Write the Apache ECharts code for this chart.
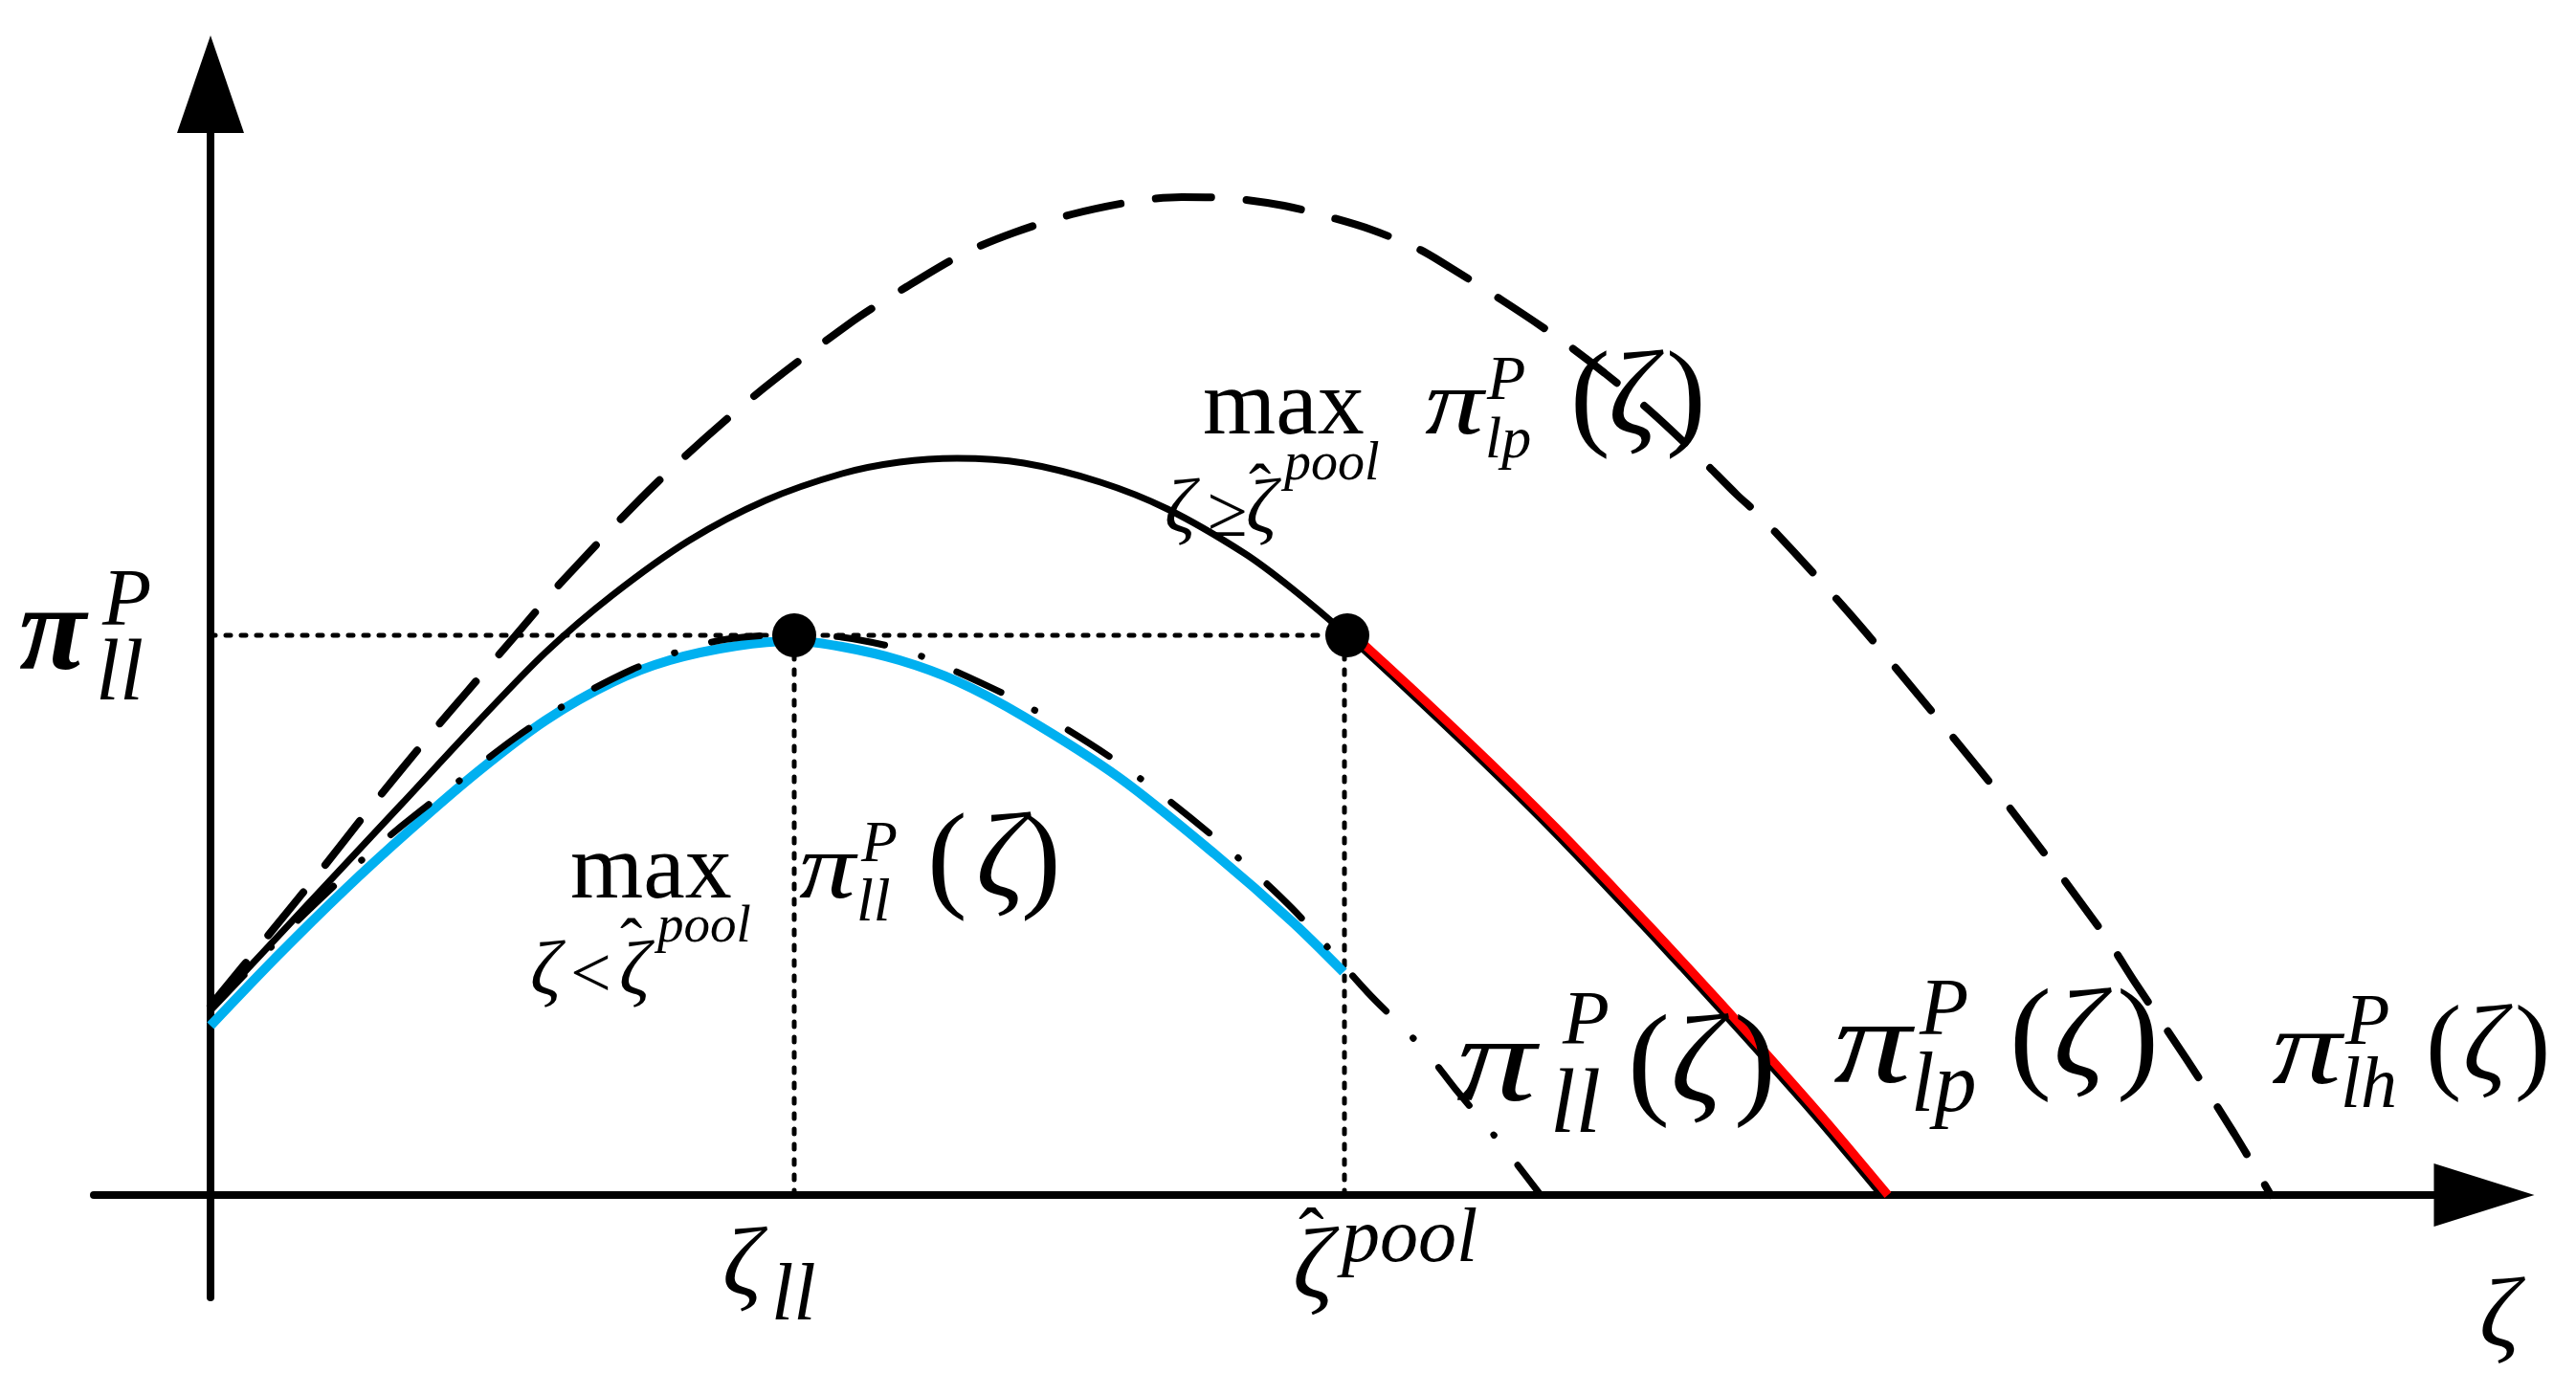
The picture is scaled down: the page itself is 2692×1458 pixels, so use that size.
<!DOCTYPE html>
<html>
<head>
<meta charset="utf-8">
<title>pooling payoffs</title>
<script src="https://cdn.jsdelivr.net/npm/echarts@6/dist/echarts.min.js"></script>
<style>
  html, body { margin: 0; padding: 0; background: #fff; }
  #chart { width: 2692px; height: 1458px; }
</style>
</head>
<body>
<div id="chart"></div>
<script>
// curves (zeta on x, payoff on y, arbitrary units)
const lpX = [0, 10, 20, 28, 35, 42, 50, 58, 66, 72, 78, 85, 93, 100, 108, 113, 118.8, 125, 132.8, 140, 146.7, 153.7, 160.7, 167.7, 174.6];
const lpY = [19.5, 30.2, 40.9, 49.5, 56.7, 62.7, 68.4, 72.6, 75.4, 76.6, 77.0, 76.5, 74.5, 71.7, 67.1, 63.4, 58.5, 52.8, 45.4, 38.3, 31.3, 23.8, 16.1, 8.2, 0];

const lhX = [0, 6, 11.2, 16.8, 22.7, 26.8, 31.8, 36.8, 46.8, 56.8, 66.8, 72.7, 78.7, 84, 90, 96.8, 101.5, 106.3, 112.2, 117, 121.3, 126, 128, 135, 140.8, 145.7, 150.5, 155.3, 159.5, 162, 171, 180, 188, 197.9, 201.2, 206.5, 211.5, 215.3];
const lhY = [19.8, 27.1, 33.5, 40.6, 47.8, 52.6, 58.4, 64.2, 74.6, 83.5, 91.1, 94.9, 98.4, 100.6, 102.5, 103.9, 104.3, 104.2, 103.4, 102.2, 100.9, 99.0, 97.9, 93.5, 89.6, 85.9, 81.9, 77.4, 73.2, 70.9, 61.1, 50.4, 40.5, 27.2, 22.1, 14.2, 6.4, 0];

const llX = [0, 8, 15.8, 20, 26, 32, 38, 44, 49.2, 54, 61, 66, 72, 75.5, 85, 95, 105, 113, 120.9, 125, 127.5, 130, 133.6, 136, 139];
const llY = [19.3, 27.6, 35.0, 38.6, 43.3, 47.9, 51.8, 54.9, 56.9, 58.1, 58.6, 58.3, 57.1, 55.8, 51.3, 45.1, 37.3, 30.0, 21.2, 17.1, 14.4, 11.2, 6.9, 3.9, 0];

// constrained optimum below the pooling threshold (blue)
const poolLowX = [0, 7, 14, 21, 28, 35, 42, 48, 55, 61, 66, 72, 78, 85, 95, 105, 113, 118.4];
const poolLowY = [17.7, 25.0, 31.9, 38.3, 44.3, 49.6, 53.6, 55.9, 57.4, 57.9, 57.3, 55.9, 53.7, 50.0, 43.6, 35.6, 28.6, 23.3];

// constrained optimum above the pooling threshold (red)
const poolHighX = [119.5, 125.7, 133.5, 140.7, 147.4, 154.4, 161.4, 168.4, 175.3];
const poolHighY = [58.5, 52.8, 45.4, 38.3, 31.3, 23.8, 16.1, 8.2, 0];

const zetaLL = 61;
const zetaPool = 118.8;
const piLL = 58.5;

function zip(xs, ys) {
  return xs.map(function (x, i) { return [x, ys[i]]; });
}

const FONT = "'Liberation Serif', 'DejaVu Serif', serif";
// text piece: x = left edge, base = baseline, sx = horizontal stretch
function tx(x, base, s, size, italic, bold, sx) {
  return {
    type: 'text', x: x, y: base - 0.3375 * size, z: 100,
    scaleX: sx || 1,
    style: {
      text: s,
      font: (italic ? 'italic ' : '') + (bold ? 'bold ' : '') + size + 'px ' + FONT,
      fill: '#000', textAlign: 'left', textVerticalAlign: 'middle'
    }
  };
}

const texts = [
  // left axis label
  tx(20, 709, 'π', 128, true, true),
  tx(107, 659, 'P', 84, true),
  tx(100, 738, 'll', 90, true),
  // upper max label
  tx(1257, 460, 'max', 98, false),
  tx(1217, 562, 'ζ', 80, true),
  tx(1262, 566, '≥', 76, false),
  tx(1302, 562, 'ζ', 80, true),
  tx(1305, 538, 'ˆ', 70, false),
  tx(1342, 505, 'pool', 56, true),
  tx(1489, 460, 'π', 98, true, false, 1.25),
  tx(1554, 422, 'P', 66, true),
  tx(1552, 483, 'lp', 62, true),
  tx(1641, 462, '(', 125, false),
  tx(1681, 462, 'ζ', 125, true),
  tx(1741, 462, ')', 125, false),
  // lower max label
  tx(596, 945, 'max', 98, false),
  tx(554, 1045, 'ζ', 80, true),
  tx(596, 1048, '<', 76, false),
  tx(647, 1045, 'ζ', 80, true),
  tx(648, 1013, 'ˆ', 70, false),
  tx(687, 988, 'pool', 55, true),
  tx(835, 945, 'π', 98, true, false, 1.2),
  tx(900, 905, 'P', 62, true),
  tx(895, 967, 'll', 64, true),
  tx(969, 945, '(', 125, false),
  tx(1020, 945, 'ζ', 125, true),
  tx(1067, 945, ')', 125, false),
  // curve names
  tx(1522, 1160, 'π', 128, true, false, 1.3),
  tx(1633, 1097, 'P', 80, true),
  tx(1620, 1190, 'll', 95, true),
  tx(1701, 1161, '(', 132, false),
  tx(1746, 1161, 'ζ', 132, true),
  tx(1812, 1161, ')', 132, false),
  tx(1916, 1140, 'π', 125, true, false, 1.3),
  tx(2006, 1087, 'P', 84, true),
  tx(1997, 1168, 'lp', 88, true),
  tx(2100, 1134, '(', 132, false),
  tx(2146, 1134, 'ζ', 132, true),
  tx(2212, 1134, ')', 132, false),
  tx(2374, 1140, 'π', 112, true, false, 1.3),
  tx(2451, 1097, 'P', 76, true),
  tx(2446, 1163, 'lh', 76, true),
  tx(2535, 1136, '(', 112, false),
  tx(2574, 1136, 'ζ', 112, true),
  tx(2628, 1136, ')', 112, false),
  // x ticks and axis name
  tx(755, 1361, 'ζ', 102, true),
  tx(806, 1385, 'll', 84, true),
  tx(1351, 1364, 'ζ', 105, true),
  tx(1357, 1324, 'ˆ', 80, false),
  tx(1402, 1324, 'pool', 80, true),
  tx(2591, 1415, 'ζ', 104, true)
];

const guide = { color: '#000', width: 5, type: [5, 11], cap: 'round' };

let chart = echarts.init(document.getElementById('chart'));
chart.setOption({
  animation: false,
  backgroundColor: '#fff',
  grid: { left: 98, right: 96, top: 88, bottom: 102 },
  xAxis: {
    type: 'value', min: -12.2, max: 237.6,
    axisLine: { onZero: true, symbol: ['none', 'triangle'], symbolSize: [66, 105], lineStyle: { color: '#000', width: 8 } },
    axisTick: { show: false }, axisLabel: { show: false }, splitLine: { show: false }
  },
  yAxis: {
    type: 'value', min: -10.7, max: 116.1,
    axisLine: { onZero: true, symbol: ['none', 'triangle'], symbolSize: [70, 102], lineStyle: { color: '#000', width: 8 } },
    axisTick: { show: false }, axisLabel: { show: false }, splitLine: { show: false }
  },
  graphic: texts,
  series: [
    {
      name: 'guide-h', type: 'line', z: 1, showSymbol: false, silent: true,
      data: [[0, piLL], [zetaPool, piLL]], lineStyle: guide
    },
    {
      name: 'guide-ll', type: 'line', z: 1, showSymbol: false, silent: true,
      data: [[zetaLL, 0], [zetaLL, piLL]], lineStyle: guide
    },
    {
      name: 'guide-pool', type: 'line', z: 1, showSymbol: false, silent: true,
      data: [[zetaPool - 0.3, 0], [zetaPool - 0.3, piLL]], lineStyle: guide
    },
    {
      name: 'pi_ll pooled', type: 'line', z: 2, smooth: 0.3, showSymbol: false,
      data: zip(poolLowX, poolLowY),
      lineStyle: { color: '#00B0F0', width: 10 }
    },
    {
      name: 'pi_ll', type: 'line', z: 3, smooth: 0.3, showSymbol: false,
      data: zip(llX, llY),
      lineStyle: { color: '#000', width: 7, type: [51, 40, 0.5, 40], cap: 'round' }
    },
    {
      name: 'pi_lh', type: 'line', z: 3, smooth: 0.3, showSymbol: false,
      data: zip(lhX, lhY),
      lineStyle: { color: '#000', width: 8, type: [58, 37], cap: 'round' }
    },
    {
      name: 'pi_lp', type: 'line', z: 3, smooth: 0.3, showSymbol: false,
      data: zip(lpX, lpY),
      lineStyle: { color: '#000', width: 7 }
    },
    {
      name: 'pi_lp pooled', type: 'line', z: 4, smooth: 0.3, showSymbol: false,
      data: zip(poolHighX, poolHighY),
      lineStyle: { color: '#FF0000', width: 9 }
    },
    {
      name: 'points', type: 'scatter', z: 5, symbolSize: 46,
      itemStyle: { color: '#000', opacity: 1 },
      data: [[zetaLL, piLL], [zetaPool, piLL]]
    }
  ]
});
</script>
</body>
</html>
